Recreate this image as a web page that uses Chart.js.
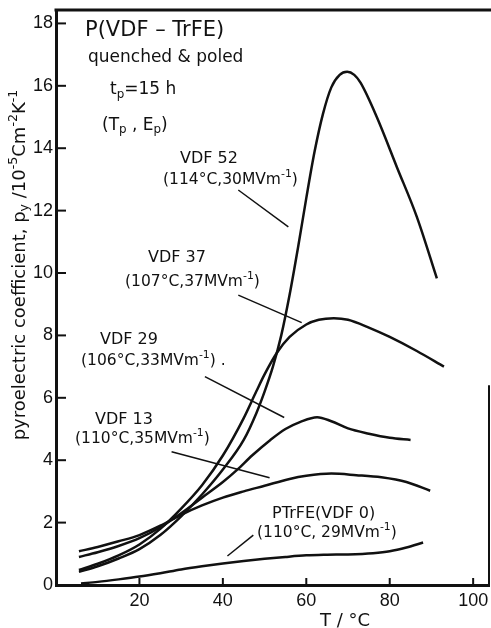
<!DOCTYPE html>
<html>
<head>
<meta charset="utf-8">
<script src="https://cdn.jsdelivr.net/npm/chart.js@4.4.0/dist/chart.umd.min.js"></script>
<style>
html, body { margin: 0; padding: 0; background: #fff; }
#wrap { width: 491px; height: 628px; position: relative; }
</style>
</head>
<body>
<div id="wrap"><canvas id="diagram"></canvas></div>
<script>
// temperatures (°C) and pyroelectric coefficient (10^-5 C m^-2 K^-1)
const tVdf52 = [5.5, 10, 15, 20, 25, 30, 35, 40, 45, 48, 50, 52, 54, 56, 58, 60, 62, 64, 66, 68, 69.8, 71.5, 73, 76.9, 81.7, 86.5, 91.3];
const pVdf52 = [0.42, 0.6, 0.85, 1.15, 1.6, 2.2, 2.9, 3.7, 4.65, 5.5, 6.2, 7.0, 8.0, 9.3, 10.8, 12.4, 13.9, 15.1, 15.95, 16.35, 16.45, 16.35, 16.1, 15.0, 13.4, 11.8, 9.83];

const tVdf37 = [5.5, 10, 15, 20, 25, 30, 35, 40, 45, 48, 50, 53, 56, 60, 63, 66.6, 70, 75, 80, 86.5, 93];
const pVdf37 = [0.48, 0.68, 0.95, 1.3, 1.8, 2.45, 3.2, 4.15, 5.35, 6.2, 6.75, 7.45, 7.95, 8.35, 8.5, 8.55, 8.5, 8.25, 7.95, 7.5, 7.0];

const tVdf29 = [5.5, 10, 15, 20, 25, 30, 35, 40, 43.4, 47, 51.4, 55, 58.6, 62.6, 66, 70, 75, 80, 85];
const pVdf29 = [0.9, 1.05, 1.25, 1.5, 1.85, 2.3, 2.8, 3.3, 3.69, 4.15, 4.65, 5.0, 5.23, 5.38, 5.25, 5.02, 4.85, 4.72, 4.65];

const tVdf13 = [5.5, 10, 15, 20, 25, 30, 35, 40, 45, 50, 56, 60, 66, 72, 78, 84, 89.7];
const pVdf13 = [1.08, 1.22, 1.4, 1.6, 1.9, 2.25, 2.55, 2.8, 3.0, 3.18, 3.4, 3.5, 3.57, 3.52, 3.45, 3.3, 3.02];

const tVdf0 = [6, 10, 15, 20, 25, 30, 35, 40, 45, 50, 55, 60, 65, 70, 76, 80, 84, 88];
const pVdf0 = [0.05, 0.1, 0.18, 0.27, 0.38, 0.5, 0.6, 0.69, 0.77, 0.84, 0.9, 0.95, 0.97, 0.98, 1.02, 1.08, 1.2, 1.36];

// leader lines from the labels to their curves
const lead52 = [[43.7, 12.66], [55.7, 11.48]];
const lead37 = [[43.7, 9.29], [58.9, 8.41]];
const lead29 = [[35.7, 6.68], [54.7, 5.37]];
const lead13 = [[27.7, 4.27], [51.2, 3.44]];
const lead0 = [[41.1, 0.93], [47.3, 1.6]];

const ink = '#111';
const face = '"DejaVu Sans", sans-serif';

function pts(xs, ys) {
    return xs.map((x, i) => ({ x: x, y: ys[i] }));
}

function curve(xs, ys) {
    return {
        data: pts(xs, ys),
        borderColor: ink,
        borderWidth: 2.5,
        pointRadius: 0,
        cubicInterpolationMode: 'monotone',
        fill: false
    };
}

function leader(p) {
    return {
        data: p.map(q => ({ x: q[0], y: q[1] })),
        borderColor: ink,
        borderWidth: 1.5,
        pointRadius: 0,
        tension: 0,
        fill: false
    };
}

// text on the plot, anchored (left, middle) at data coordinates
const notes = [
    { at: [6.95, 17.76], size: 21, parts: ['P(VDF – TrFE)'] },
    { at: [7.67, 16.89], size: 17, parts: ['quenched & poled'] },
    { at: [12.95, 15.87], size: 17, parts: ['t', { sub: 'p' }, '=15 h'] },
    { at: [11.03, 14.74], size: 17, parts: ['(T', { sub: 'p' }, ' , E', { sub: 'p' }, ')'] },
    { at: [29.74, 13.65], size: 16, parts: ['VDF 52'] },
    { at: [25.66, 12.98], size: 15.5, parts: ['(114°C,30MVm', { sup: '-1' }, ')'] },
    { at: [22.06, 10.48], size: 16, parts: ['VDF 37'] },
    { at: [16.55, 9.71], size: 15.5, parts: ['(107°C,37MVm', { sup: '-1' }, ')'] },
    { at: [10.55, 7.85], size: 16, parts: ['VDF 29'] },
    { at: [6.0, 7.18], size: 15.5, parts: ['(106°C,33MVm', { sup: '-1' }, ') .'] },
    { at: [9.35, 5.29], size: 16, parts: ['VDF 13'] },
    { at: [4.56, 4.68], size: 15.5, parts: ['(110°C,35MVm', { sup: '-1' }, ')'] },
    { at: [51.8, 2.28], size: 16, parts: ['PTrFE(VDF 0)'] },
    { at: [48.2, 1.67], size: 15.5, parts: ['(110°C, 29MVm', { sup: '-1' }, ')'] }
];

const yTitle = ['pyroelectric coefficient, p', { sub: 'y' }, ' /10', { sup: '-5' }, 'Cm', { sup: '-2' }, 'K', { sup: '-1' }];
const xTitle = ['T / °C'];

function drawRich(ctx, parts, x, y, size, draw) {
    let cx = x;
    for (const p of parts) {
        let t = p, s = size, dy = 0;
        if (typeof p === 'object') {
            t = p.sup !== undefined ? p.sup : p.sub;
            s = size * 0.7;
            dy = p.sup !== undefined ? -size * 0.36 : size * 0.28;
        }
        ctx.font = s + 'px ' + face;
        if (draw) ctx.fillText(t, cx, y + dy);
        cx += ctx.measureText(t).width;
    }
    return cx - x;
}

const paper = {
    id: 'paper',
    afterDraw(chart) {
        const ctx = chart.ctx;
        const a = chart.chartArea;
        const xs = chart.scales.x;
        const ys = chart.scales.y;
        ctx.save();
        ctx.strokeStyle = ink;
        ctx.fillStyle = ink;

        // frame: top line and short right edge
        ctx.lineWidth = 3;
        ctx.beginPath();
        ctx.moveTo(a.left - 1.5, a.top);
        ctx.lineTo(chart.width, a.top);
        ctx.stroke();
        ctx.lineWidth = 2;
        ctx.beginPath();
        ctx.moveTo(a.right, ys.getPixelForValue(6.4));
        ctx.lineTo(a.right, a.bottom);
        ctx.stroke();

        // inward tick marks
        ctx.lineWidth = 2;
        ys.ticks.forEach(t => {
            if (t.value === 0) return;
            const py = ys.getPixelForValue(t.value);
            ctx.beginPath();
            ctx.moveTo(a.left, py);
            ctx.lineTo(a.left + 10, py);
            ctx.stroke();
        });
        xs.ticks.forEach(t => {
            if (t.value === 0) return;
            const px = xs.getPixelForValue(t.value);
            ctx.beginPath();
            ctx.moveTo(px, a.bottom);
            ctx.lineTo(px, a.bottom - 7);
            ctx.stroke();
        });

        ctx.textBaseline = 'middle';
        ctx.textAlign = 'left';
        notes.forEach(n => {
            drawRich(ctx, n.parts, xs.getPixelForValue(n.at[0]), ys.getPixelForValue(n.at[1]), n.size, true);
        });

        // axis titles
        const w = drawRich(ctx, xTitle, 0, 0, 18, false);
        drawRich(ctx, xTitle, 345 - w / 2, 621, 18, true);
        ctx.translate(20, 265);
        ctx.rotate(-Math.PI / 2);
        const h = drawRich(ctx, yTitle, 0, 0, 18, false);
        drawRich(ctx, yTitle, -h / 2, 0, 18, true);
        ctx.restore();
    }
};

new Chart('diagram', {
    type: 'line',
    data: {
        datasets: [
            curve(tVdf52, pVdf52),
            curve(tVdf37, pVdf37),
            curve(tVdf29, pVdf29),
            curve(tVdf13, pVdf13),
            curve(tVdf0, pVdf0),
            leader(lead52),
            leader(lead37),
            leader(lead29),
            leader(lead13),
            leader(lead0)
        ]
    },
    options: {
        responsive: true,
        maintainAspectRatio: false,
        animation: false,
        layout: { padding: { top: 10, right: 2, left: 0, bottom: 0 } },
        plugins: {
            legend: { display: false },
            tooltip: { enabled: false }
        },
        scales: {
            x: {
                type: 'linear',
                min: 0,
                max: 103.8,
                afterFit: s => { s.height = 43; s.paddingLeft = 0; s.paddingRight = 0; },
                border: { display: true, width: 3, color: ink },
                grid: { display: true, drawOnChartArea: false, drawTicks: false },
                ticks: {
                    stepSize: 20,
                    includeBounds: false,
                    padding: 5,
                    maxRotation: 0,
                    color: ink,
                    font: { family: 'Liberation Sans', size: 18 },
                    callback: v => (v === 0 ? '' : v)
                }
            },
            y: {
                type: 'linear',
                min: 0,
                max: 18.43,
                afterFit: s => { s.width = 56; s.paddingTop = 0; s.paddingBottom = 0; },
                border: { display: true, width: 3, color: ink },
                grid: { display: true, drawOnChartArea: false, drawTicks: false },
                ticks: {
                    stepSize: 2,
                    includeBounds: false,
                    padding: 3,
                    color: ink,
                    font: { family: 'Liberation Sans', size: 18 }
                }
            }
        }
    },
    plugins: [paper]
});
</script>
</body>
</html>
